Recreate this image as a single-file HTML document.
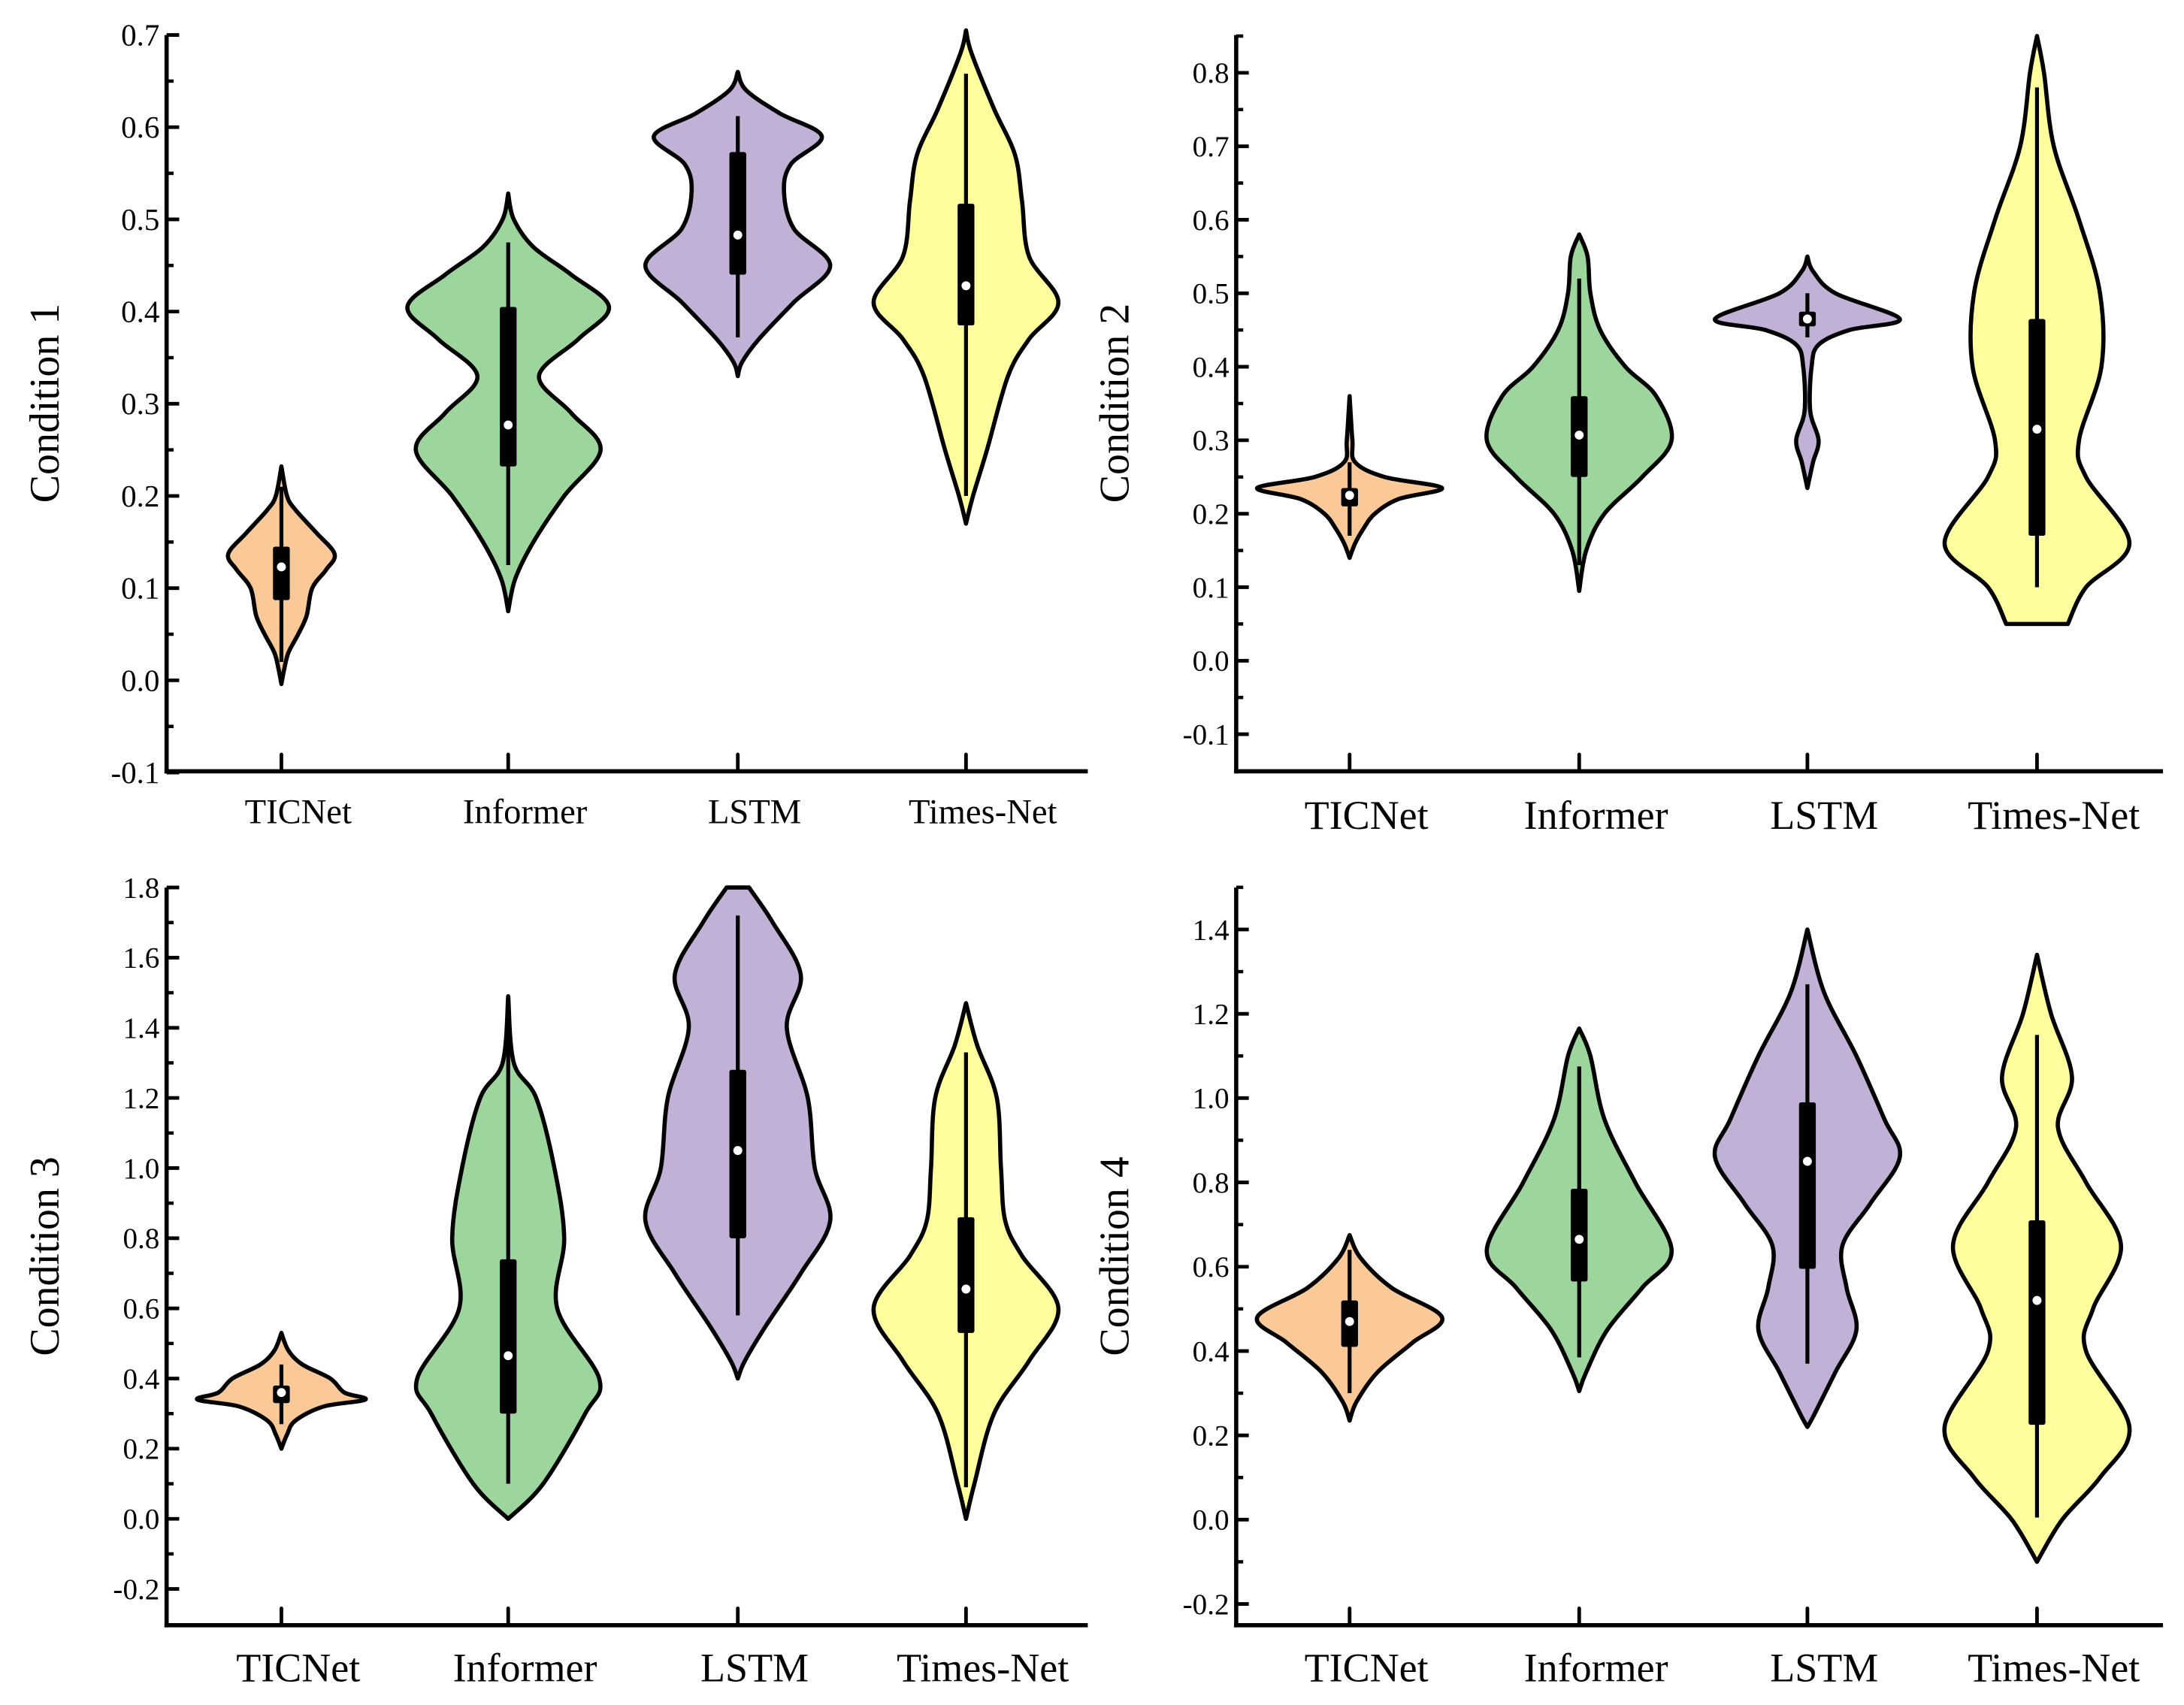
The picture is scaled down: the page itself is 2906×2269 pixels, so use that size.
<!DOCTYPE html>
<html><head><meta charset="utf-8">
<style>
html,body{margin:0;padding:0;background:#fff;}
svg{display:block;}
text{font-family:"Liberation Serif",serif;fill:#000;}
</style></head>
<body>
<svg id="chart" width="2906" height="2269" viewBox="0 0 1560 1218" preserveAspectRatio="none" xmlns="http://www.w3.org/2000/svg"></svg>
<script>
const categories = ["TICNet","Informer","LSTM","Times-Net"];
const colors = ["#fbc897","#9dd69d","#c2b1d6","#ffff9e"];
const titles = ["Condition 1","Condition 2","Condition 3","Condition 4"];
// density profiles: [value, half-width]
const c1Profiles = [
 [[0.232,0],[0.2,4],[0.185,10],[0.16,25],[0.137,38],[0.12,32],[0.1,22],[0.07,18],[0.05,12],[0.03,5],[0.012,2],[-0.004,0]],
 [[0.528,0],[0.5,4],[0.47,18],[0.44,45],[0.405,72],[0.37,50],[0.33,22],[0.29,45],[0.25,66],[0.2,40],[0.15,18],[0.11,5],[0.075,0]],
 [[0.66,0],[0.64,6],[0.615,30],[0.59,60],[0.56,38],[0.53,33],[0.49,40],[0.45,66],[0.41,40],[0.37,15],[0.345,3],[0.33,0]],
 [[0.705,0],[0.68,4],[0.62,20],[0.57,35],[0.52,40],[0.46,45],[0.41,66],[0.37,45],[0.33,30],[0.25,15],[0.2,5],[0.17,0]]
];
const c2Profiles = [
 [[0.36,0],[0.3,2],[0.27,4],[0.25,25],[0.235,66],[0.22,35],[0.2,18],[0.18,10],[0.16,4],[0.14,0]],
 [[0.58,0],[0.55,6],[0.5,8],[0.45,15],[0.4,33],[0.36,55],[0.3,66],[0.25,45],[0.2,18],[0.15,5],[0.095,0]],
 [[0.55,0],[0.53,4],[0.5,20],[0.465,66],[0.45,30],[0.43,8],[0.4,3],[0.34,2],[0.3,8],[0.27,4],[0.235,0]],
 [[0.85,0],[0.8,5],[0.7,12],[0.6,30],[0.5,45],[0.4,46],[0.3,30],[0.25,35],[0.16,66],[0.1,35],[0.05,22]]
];
const c3Profiles = [
 [[0.53,0],[0.48,5],[0.44,15],[0.4,35],[0.36,45],[0.34,60],[0.32,30],[0.28,10],[0.24,4],[0.2,0]],
 [[1.49,0],[1.3,4],[1.2,20],[1.0,33],[0.8,40],[0.6,35],[0.4,65],[0.3,55],[0.1,25],[0.0,0]],
 [[1.8,8],[1.7,25],[1.55,45],[1.4,35],[1.2,50],[1.0,55],[0.85,66],[0.7,45],[0.55,20],[0.45,5],[0.4,0]],
 [[1.47,0],[1.35,8],[1.2,22],[1.0,25],[0.85,28],[0.75,40],[0.6,66],[0.45,45],[0.3,20],[0.1,6],[0,0]]
];
const c4Profiles = [
 [[0.675,0],[0.62,8],[0.55,30],[0.48,66],[0.42,45],[0.35,20],[0.28,5],[0.235,0]],
 [[1.165,0],[1.1,8],[0.95,18],[0.8,40],[0.64,66],[0.55,45],[0.45,20],[0.35,5],[0.305,0]],
 [[1.4,0],[1.25,12],[1.1,35],[0.95,55],[0.86,66],[0.75,45],[0.65,25],[0.55,28],[0.45,35],[0.35,20],[0.25,5],[0.22,0]],
 [[1.34,0],[1.2,10],[1.05,25],[0.93,15],[0.8,35],[0.65,60],[0.5,40],[0.4,35],[0.22,66],[0.1,45],[0.0,18],[-0.1,0]]
];
// box stats: [whiskerLow, q1, median, q3, whiskerHigh]
const c1Stats = [[0.02,0.087,0.123,0.145,0.21],[0.125,0.232,0.277,0.405,0.475],[0.372,0.44,0.483,0.573,0.612],[0.2,0.385,0.428,0.517,0.658]];
const c2Stats = [[0.17,0.21,0.225,0.235,0.27],[0.13,0.25,0.307,0.36,0.52],[0.44,0.455,0.465,0.475,0.5],[0.1,0.17,0.315,0.465,0.78]];
const c3Stats = [[0.27,0.33,0.36,0.38,0.44],[0.1,0.3,0.465,0.74,1.38],[0.58,0.8,1.05,1.28,1.72],[0.09,0.53,0.655,0.86,1.33]];
const c4Stats = [[0.3,0.41,0.47,0.52,0.64],[0.385,0.565,0.665,0.785,1.075],[0.37,0.595,0.85,0.99,1.27],[0.005,0.225,0.52,0.71,1.15]];
const c1Ticks = ["-0.1","0.0","0.1","0.2","0.3","0.4","0.5","0.6","0.7"];
const c2Ticks = ["-0.1","0.0","0.1","0.2","0.3","0.4","0.5","0.6","0.7","0.8"];
const c3Ticks = ["-0.2","0.0","0.2","0.4","0.6","0.8","1.0","1.2","1.4","1.6","1.8"];
const c4Ticks = ["-0.2","0.0","0.2","0.4","0.6","0.8","1.0","1.2","1.4"];

const NS="http://www.w3.org/2000/svg";
const svg=document.getElementById('chart');
function mk(tag,attrs,parent){const e=document.createElementNS(NS,tag);for(const k in attrs)e.setAttribute(k,attrs[k]);(parent||svg).appendChild(e);return e;}

const panels=[
 {profiles:c1Profiles,stats:c1Stats,ticks:c1Ticks,ax:119,top:25,bot:551,right:777,v0:0.0,y0:486,v1:0.7,y1:25,xs:[201,363,527,690],tickFs:22,catFs:25,catY:588,titleX:42},
 {profiles:c2Profiles,stats:c2Stats,ticks:c2Ticks,ax:883,top:25,bot:551,right:1545,v0:0.0,y0:472,v1:0.8,y1:52,xs:[964,1128,1291,1455],tickFs:21,catFs:29,catY:592,titleX:806},
 {profiles:c3Profiles,stats:c3Stats,ticks:c3Ticks,ax:119,top:634,bot:1161,right:777,v0:0.0,y0:1085,v1:1.8,y1:634,xs:[201,363,527,690],tickFs:21,catFs:29,catY:1201,titleX:42},
 {profiles:c4Profiles,stats:c4Stats,ticks:c4Ticks,ax:883,top:634,bot:1161,right:1545,v0:0.0,y0:1085.6,v1:1.4,y1:664,xs:[964,1128,1291,1455],tickFs:21,catFs:29,catY:1201,titleX:806}
];

function smoothPath(pts){
  let d="M"+pts[0][0]+","+pts[0][1];
  for(let i=0;i<pts.length-1;i++){
    const p0=pts[Math.max(0,i-1)],p1=pts[i],p2=pts[i+1],p3=pts[Math.min(pts.length-1,i+2)];
    const c1x=p1[0]+(p2[0]-p0[0])/6,c1y=p1[1]+(p2[1]-p0[1])/6;
    const c2x=p2[0]-(p3[0]-p1[0])/6,c2y=p2[1]-(p3[1]-p1[1])/6;
    d+=" C"+c1x.toFixed(2)+","+c1y.toFixed(2)+" "+c2x.toFixed(2)+","+c2y.toFixed(2)+" "+p2[0].toFixed(2)+","+p2[1].toFixed(2);
  }
  return d;
}

panels.forEach((p,pi)=>{
  const g=mk('g',{});
  
  
  const yS=v=>p.y0+(v-p.v0)*(p.y1-p.y0)/(p.v1-p.v0);
  const step=parseFloat(p.ticks[1])-parseFloat(p.ticks[0]);
  p.profiles.forEach((prof,ci)=>{
    const cx=p.xs[ci];
    const right=prof.map(q=>[cx+q[1],yS(q[0])]);
    const left=prof.slice().reverse().map(q=>[cx-q[1],yS(q[0])]);
    let d=smoothPath(right);
    d+=" L"+left[0][0].toFixed(2)+","+left[0][1].toFixed(2);
    d+=smoothPath(left).replace(/^M[^ C]+/,"")+" Z";
    const v=mk('path',{d:d,fill:colors[ci],stroke:'#000','stroke-width':3,'stroke-linejoin':'round'},g);
    
    
    const s=p.stats[ci];
    const w=mk('line',{x1:cx,x2:cx,y1:yS(s[0]),y2:yS(s[4]),stroke:'#000','stroke-width':2.8},g);
    
    
    const b=mk('rect',{x:cx-6,y:yS(s[3]),width:12,height:yS(s[1])-yS(s[3]),fill:'#000',rx:1.5},g);
    
    
    const m=mk('circle',{cx:cx,cy:yS(s[2]),r:3.2,fill:'#fff'},g);
    
    
  });
  const ya=mk('line',{x1:p.ax,x2:p.ax,y1:p.top,y2:p.bot+1.5,stroke:'#000','stroke-width':3},g);
  
  
  const xa=mk('line',{x1:p.ax-1.5,x2:p.right,y1:p.bot,y2:p.bot,stroke:'#000','stroke-width':3},g);
  
  
  p.ticks.forEach(t=>{
    const v=parseFloat(t), y=yS(v);
    const tk=mk('line',{x1:p.ax,x2:p.ax+9,y1:y,y2:y,stroke:'#000','stroke-width':2.6},g);
    
    
    const lb=mk('text',{x:p.ax-5,y:y+p.tickFs*0.34,'text-anchor':'end','font-size':p.tickFs},g);
    lb.textContent=t;
    
    
  });
  const vmin=parseFloat(p.ticks[0]);
  for(let k=-1;k<p.ticks.length;k++){
    const y=yS(vmin+(k+0.5)*step);
    if(y<p.top-1||y>p.bot-3) continue;
    const mt=mk('line',{x1:p.ax,x2:p.ax+5,y1:y,y2:y,stroke:'#000','stroke-width':2.4},g);
    
    
  }
  categories.forEach((c,ci)=>{
    const cx=p.xs[ci];
    const tk=mk('line',{x1:cx,x2:cx,y1:p.bot,y2:p.bot-12,stroke:'#000','stroke-width':2.6,'stroke-linecap':'round'},g);
    
    
    const lb=mk('text',{x:cx+12,y:p.catY,'text-anchor':'middle','font-size':p.catFs},g);
    lb.textContent=c;
    
    
  });
  const mid=(p.top+p.bot)/2;
  const ti=mk('text',{x:p.titleX,y:mid,'text-anchor':'middle','font-size':30,transform:'rotate(-90 '+p.titleX+' '+mid+')'},g);
  ti.textContent=titles[pi];
  
  
});
</script>
</body></html>
